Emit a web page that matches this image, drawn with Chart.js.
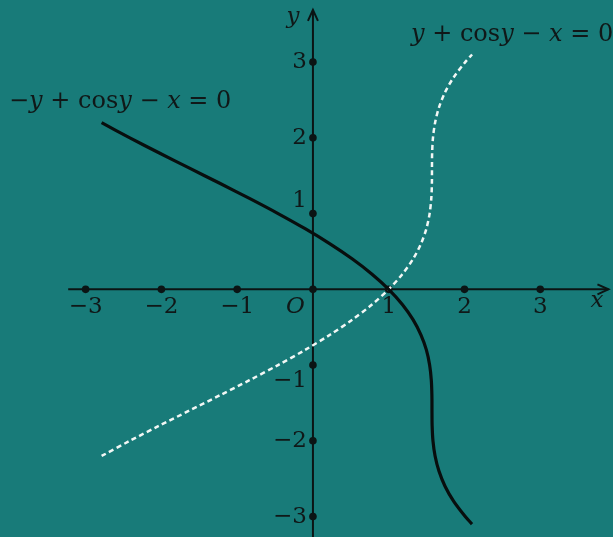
<!DOCTYPE html>
<html>
<head>
<meta charset="utf-8">
<script src="https://cdn.jsdelivr.net/npm/chart.js@4.4.0/dist/chart.umd.min.js"></script>
<style>
  html, body { margin: 0; padding: 0; background: #187b79; }
  #wrap { width: 613px; height: 537px; position: relative; }
</style>
</head>
<body>
<div id="wrap"><canvas id="chart"></canvas></div>
<script>
// -y + cos y - x = 0  (solid black)
var solidX = [2.10, 2.01, 1.858, 1.743, 1.663, 1.612, 1.584, 1.573, 1.571, 1.570, 1.562, 1.540, 1.497, 1.425, 1.321, 1.180, 1.000, 0.780, 0.521, 0.225, -0.103, -0.460, -0.838, -1.230, -1.629, -2.027, -2.416, -2.789];
var solidY = [-3.1, -3.0, -2.8, -2.6, -2.4, -2.2, -2.0, -1.8, -1.6, -1.4, -1.2, -1.0, -0.8, -0.6, -0.4, -0.2, 0, 0.2, 0.4, 0.6, 0.8, 1.0, 1.2, 1.4, 1.6, 1.8, 2.0, 2.2];

// y + cos y - x = 0  (dashed white)
var dashX = [-2.789, -2.416, -2.027, -1.629, -1.230, -0.838, -0.460, -0.103, 0.225, 0.521, 0.780, 1.000, 1.180, 1.321, 1.425, 1.497, 1.540, 1.562, 1.570, 1.571, 1.573, 1.584, 1.612, 1.663, 1.743, 1.858, 2.01, 2.10];
var dashY = [-2.2, -2.0, -1.8, -1.6, -1.4, -1.2, -1.0, -0.8, -0.6, -0.4, -0.2, 0, 0.2, 0.4, 0.6, 0.8, 1.0, 1.2, 1.4, 1.6, 1.8, 2.0, 2.2, 2.4, 2.6, 2.8, 3.0, 3.1];

var xTicks = [-3, -2, -1, 1, 2, 3];
var yTicks = [-3, -2, -1, 1, 2, 3];
var xTickLabels = ["\u22123", "\u22122", "\u22121", "1", "2", "3"];
var yTickLabels = ["\u22123", "\u22122", "\u22121", "1", "2", "3"];

function pts(xs, ys) {
  var out = [];
  for (var i = 0; i < xs.length; i++) out.push({x: xs[i], y: ys[i]});
  return out;
}

var SERIF = '"DejaVu Serif", "Liberation Serif", serif';

// draw a formula made of [text, italic] pieces
function drawPieces(ctx, pieces, x, y, size) {
  var cx = x;
  for (var i = 0; i < pieces.length; i++) {
    ctx.font = (pieces[i][1] ? 'italic ' : '') + size + 'px ' + SERIF;
    ctx.fillText(pieces[i][0], cx, y);
    cx += ctx.measureText(pieces[i][0]).width;
  }
}

var axesPlugin = {
  id: 'axes',
  beforeDatasetsDraw: function(chart) {
    var ctx = chart.ctx, xs = chart.scales.x, ys = chart.scales.y;
    var x0 = xs.getPixelForValue(0), y0 = ys.getPixelForValue(0);
    ctx.save();
    ctx.strokeStyle = '#0b1414';
    ctx.fillStyle = '#0b1414';
    ctx.lineWidth = 2;
    // x axis
    var xa = xs.getPixelForValue(-3.23), xb = xs.getPixelForValue(3.9);
    ctx.beginPath(); ctx.moveTo(xa, y0); ctx.lineTo(xb, y0); ctx.stroke();
    ctx.beginPath(); ctx.moveTo(xb - 11, y0 - 5); ctx.lineTo(xb, y0); ctx.lineTo(xb - 11, y0 + 5); ctx.stroke();
    // y axis
    var ya = ys.getPixelForValue(-3.4), yb = ys.getPixelForValue(3.69);
    ctx.beginPath(); ctx.moveTo(x0, ya); ctx.lineTo(x0, yb); ctx.stroke();
    ctx.beginPath(); ctx.moveTo(x0 - 5, yb + 11); ctx.lineTo(x0, yb); ctx.lineTo(x0 + 5, yb + 11); ctx.stroke();

    // tick dots
    function dot(px, py) { ctx.beginPath(); ctx.arc(px, py, 3.8, 0, Math.PI * 2); ctx.fill(); }
    dot(x0, y0);
    xTicks.forEach(function(v) { dot(xs.getPixelForValue(v), y0); });
    yTicks.forEach(function(v) { dot(x0, ys.getPixelForValue(v)); });

    // tick labels
    ctx.fillStyle = '#101818';
    ctx.font = '23px ' + SERIF;
    ctx.textAlign = 'center';
    ctx.textBaseline = 'middle';
    xTicks.forEach(function(v, i) {
      ctx.fillText(xTickLabels[i], xs.getPixelForValue(v), y0 + 18);
    });
    ctx.textAlign = 'right';
    yTicks.forEach(function(v, i) {
      var py = ys.getPixelForValue(v), px = x0 - 6;
      if (v === 1) { py -= 13; }
      if (v === -1) { py += 16; }
      ctx.fillText(yTickLabels[i], px, py);
    });
    ctx.font = 'italic 23px ' + SERIF;
    ctx.fillText('O', x0 - 8, y0 + 18);
    ctx.textAlign = 'center';
    ctx.fillText('x', xs.getPixelForValue(3.75), y0 + 12);
    ctx.fillText('y', x0 - 20, ys.getPixelForValue(3.6));

    // curve labels
    ctx.textAlign = 'left';
    drawPieces(ctx, [['\u2212', false], ['y', true], [' + cos', false], ['y', true], [' \u2212 ', false], ['x', true], [' = 0', false]],
      9, 102, 24);
    drawPieces(ctx, [['y', true], [' + cos', false], ['y', true], [' \u2212 ', false], ['x', true], [' = 0', false]],
      411, 35, 24);
    ctx.restore();
  }
};

new Chart(document.getElementById('chart'), {
  type: 'scatter',
  data: {
    datasets: [
      {
        label: '-y + cos y - x = 0',
        data: pts(solidX, solidY),
        showLine: true,
        borderColor: '#080e0e',
        borderWidth: 3.2,
        pointRadius: 0,
        tension: 0.3
      },
      {
        label: 'y + cos y - x = 0',
        data: pts(dashX, dashY),
        showLine: true,
        borderColor: '#f2f7f5',
        borderWidth: 2.5,
        borderDash: [5, 3.5],
        pointRadius: 0,
        tension: 0.3
      }
    ]
  },
  options: {
    responsive: true,
    maintainAspectRatio: false,
    animation: false,
    layout: { padding: 0 },
    plugins: { legend: { display: false }, tooltip: { enabled: false } },
    scales: {
      x: { type: 'linear', min: -4.13, max: 3.96, display: false },
      y: { type: 'linear', min: -3.27, max: 3.82, display: false }
    }
  },
  plugins: [axesPlugin]
});
</script>
</body>
</html>
